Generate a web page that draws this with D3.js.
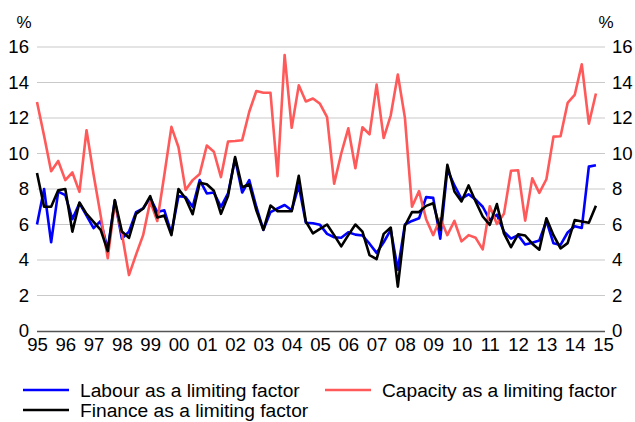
<!DOCTYPE html>
<html>
<head>
<meta charset="utf-8">
<script src="https://cdn.jsdelivr.net/npm/d3@7"></script>
<style>
  html, body { margin: 0; padding: 0; background: #fff; }
  svg { display: block; }
  text { font-family: "Liberation Sans", Arial, sans-serif; fill: #000; }
</style>
</head>
<body>
<svg id="chart" width="635" height="422"></svg>
<script>
// ---- data (quarterly, 1995Q1 .. 2014Q4) ----
const startYear = 1995;
const yearLabels = ["95","96","97","98","99","00","01","02","03","04","05","06","07","08","09","10","11","12","13","14","15"];
const yTicks = [0, 2, 4, 6, 8, 10, 12, 14, 16];

const labour = [
  6.0, 8.0, 5.0, 7.85, 7.65, 6.3, 7.2, 6.5, 5.8, 6.2,
  4.6, 7.35, 5.2, 5.6, 6.7, 6.9, 7.5, 6.7, 6.8, 5.5,
  7.6, 7.55, 7.0, 8.5, 7.75, 7.8, 7.0, 7.75, 9.7, 7.8,
  8.5, 7.0, 5.7, 6.7, 6.9, 7.1, 6.8, 8.2, 6.1, 6.07,
  5.98, 5.47, 5.28, 5.25, 5.56, 5.43, 5.38, 4.92, 4.4, 5.0,
  5.7, 3.45, 6.0, 6.2, 6.35, 7.54, 7.5, 5.2, 9.1, 8.2,
  7.45, 7.7, 7.4, 7.0, 6.26, 6.55, 5.6, 5.2, 5.4, 4.87,
  4.97, 5.1, 6.2, 4.94, 4.85, 5.55, 5.9, 5.8, 9.26, 9.34
];
const capacity = [
  12.9, 11.0, 9.0, 9.58, 8.5, 8.93, 7.84, 11.31, 8.8, 6.5,
  4.1, 7.2, 5.5, 3.15, 4.3, 5.4, 7.3, 6.2, 8.8, 11.5,
  10.35, 7.95, 8.5, 8.85, 10.45, 10.1, 8.67, 10.68, 10.7, 10.75,
  12.35, 13.52, 13.42, 13.42, 8.72, 15.55, 11.45, 13.84, 12.93, 13.1,
  12.8, 12.05, 8.3, 10.0, 11.42, 9.17, 11.48, 11.08, 13.88, 10.87,
  12.15, 14.45, 12.02, 7.0, 7.88, 6.3, 5.4, 6.35, 5.4, 6.2,
  5.05, 5.4, 5.25, 4.6, 7.03, 6.03, 6.6, 9.03, 9.06, 6.22,
  8.6, 7.78, 8.55, 10.95, 10.97, 12.85, 13.3, 15.03, 11.68, 13.38
];
const finance = [
  8.9, 7.0, 7.0, 7.93, 8.0, 5.6, 7.24, 6.6, 6.15, 5.7,
  4.5, 7.37, 5.6, 5.25, 6.6, 6.9, 7.6, 6.4, 6.5, 5.4,
  8.0, 7.46, 6.58, 8.35, 8.27, 7.9, 6.6, 7.6, 9.8, 8.1,
  8.27, 6.8, 5.7, 7.07, 6.75, 6.75, 6.75, 8.74, 6.17, 5.5,
  5.75, 6.0, 5.4, 4.77, 5.4, 6.0, 5.6, 4.27, 4.05, 5.47,
  5.83, 2.5, 5.93, 6.7, 6.7, 7.05, 7.2, 5.7, 9.36, 7.86,
  7.3, 8.2, 7.3, 6.45, 5.98, 7.15, 5.5, 4.72, 5.45, 5.38,
  4.92, 4.58, 6.35, 5.4, 4.65, 4.95, 6.25, 6.17, 6.1, 7.05
];

const seriesNames = ["Labour as a limiting factor", "Capacity as a limiting factor", "Finance as a limiting factor"];
const seriesColors = ["#0000ff", "#ff5959", "#000000"];

// ---- layout ----
const svg = d3.select("#chart");
const plotLeft = 37, plotRight = 605, plotTop = 47, plotBottom = 331;

const x = d3.scaleLinear().domain([1995, 2015]).range([plotLeft, 603]);
const y = d3.scaleLinear().domain([0, 16]).range([plotBottom, plotTop]);

// gridlines
svg.append("g")
  .selectAll("line")
  .data(yTicks.filter(d => d > 0))
  .join("line")
  .attr("x1", plotLeft).attr("x2", plotRight)
  .attr("y1", d => y(d)).attr("y2", d => y(d))
  .attr("stroke", "#c9c9c9").attr("stroke-width", 1.2);

// left axis
const fs = 18.6;
const yl = svg.append("g").attr("transform", `translate(${plotLeft - 8},0)`)
  .call(d3.axisLeft(y).tickValues(yTicks).tickSize(0).tickPadding(0));
yl.select(".domain").remove();
yl.selectAll("text").attr("font-size", fs).attr("font-family", "Liberation Sans, Arial, sans-serif").attr("fill", "#000");

// right axis
const yr = svg.append("g").attr("transform", `translate(${plotRight + 7},0)`)
  .call(d3.axisRight(y).tickValues(yTicks).tickSize(0).tickPadding(0));
yr.select(".domain").remove();
yr.selectAll("text").attr("font-size", fs).attr("font-family", "Liberation Sans, Arial, sans-serif").attr("fill", "#000");

// x axis
const xa = svg.append("g").attr("transform", `translate(0,${plotBottom})`)
  .call(d3.axisBottom(x)
    .tickValues(d3.range(1995, 2016))
    .tickFormat((d, i) => yearLabels[i])
    .tickSize(0).tickPadding(7));
xa.select(".domain").attr("d", `M${plotLeft},0.5H${plotRight}`).attr("stroke", "#555").attr("stroke-width", 1.5);
xa.selectAll("text").attr("font-size", fs).attr("font-family", "Liberation Sans, Arial, sans-serif").attr("fill", "#000");

// % labels
svg.append("text").attr("x", 24).attr("y", 28).attr("text-anchor", "middle").attr("font-size", 17).text("%");
svg.append("text").attr("x", 606).attr("y", 28).attr("text-anchor", "middle").attr("font-size", 17).text("%");

// lines
const line = d3.line()
  .x((d, i) => x(startYear + i / 4))
  .y(d => y(d));

const allSeries = [labour, capacity, finance];
svg.append("g")
  .selectAll("path")
  .data(allSeries)
  .join("path")
  .attr("d", d => line(d))
  .attr("fill", "none")
  .attr("stroke", (d, i) => seriesColors[i])
  .attr("stroke-width", 2.6)
  .attr("stroke-linejoin", "round");

// legend
const legendItems = [
  { name: seriesNames[0], color: seriesColors[0], x: 23, y: 390 },
  { name: seriesNames[1], color: seriesColors[1], x: 325, y: 390 },
  { name: seriesNames[2], color: seriesColors[2], x: 23, y: 410 }
];
const lg = svg.append("g").selectAll("g").data(legendItems).join("g")
  .attr("transform", d => `translate(${d.x},${d.y})`);
lg.append("line").attr("x1", 0).attr("x2", 46).attr("y1", 0).attr("y2", 0)
  .attr("stroke", d => d.color).attr("stroke-width", 2.6);
lg.append("text").attr("x", 57).attr("y", 6.8).attr("font-size", 19.2).text(d => d.name);
</script>
</body>
</html>
